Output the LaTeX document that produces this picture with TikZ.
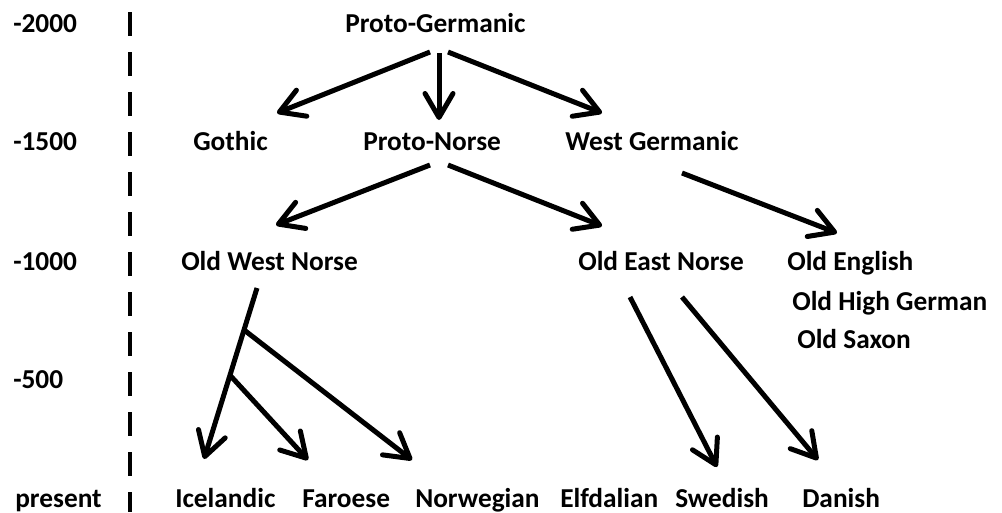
\documentclass[tikz,border=0pt]{standalone}
\usepackage{fontspec}
\setmainfont{Carlito}
\usetikzlibrary{arrows.meta}

\begin{document}
\begin{tikzpicture}[x=0.75pt, y=-0.75pt,
  lang/.style={anchor=base west, inner sep=0pt, font=\fontsize{20.5}{24}\selectfont\bfseries},
  arr/.style={line width=3.75pt, -{Straight Barb[length=18pt,width=21pt,round]}}]
\useasboundingbox (0,0) rectangle (1002,512);
\draw[line width=3pt, dash pattern=on 18pt off 12pt] (130,12) -- (130,512);
\node[lang] (y2000) at (13,32) {-2000};
\node[lang] (y1500) at (13,150) {-1500};
\node[lang] (y1000) at (13,270) {-1000};
\node[lang] (y500) at (13,388) {-500};
\node[lang] (ynow) at (15,507) {present};
\node[lang] (pg) at (345,32) {Proto-Germanic};
\node[lang] (goth) at (193,150) {Gothic};
\node[lang] (pn) at (363,150) {Proto-Norse};
\node[lang] (wg) at (565,150) {West Germanic};
\node[lang] (own) at (181,270) {Old West Norse};
\node[lang] (oen) at (578,270) {Old East Norse};
\node[lang] (oe) at (787,270) {Old English};
\node[lang] (ohg) at (792,310) {Old High German};
\node[lang] (os) at (797,348) {Old Saxon};
\node[lang] (ice) at (175,507) {Icelandic};
\node[lang] (far) at (302,507) {Faroese};
\node[lang] (nor) at (415,507) {Norwegian};
\node[lang] (elf) at (560,507) {Elfdalian};
\node[lang] (swe) at (675,507) {Swedish};
\node[lang] (dan) at (802,507) {Danish};
\draw[arr] ([shift={(85,20)}]pg.base west) -- ([shift={(84,-37)}]goth.base west);
\draw[arr] ([shift={(94,21)}]pg.base west) -- ([shift={(76,-30)}]pn.base west);
\draw[arr] ([shift={(103,20)}]pg.base west) -- ([shift={(37,-37)}]wg.base west);
\draw[arr] ([shift={(67,15)}]pn.base west) -- ([shift={(95,-45)}]own.base west);
\draw[arr] ([shift={(85,15)}]pn.base west) -- ([shift={(24,-44)}]oen.base west);
\draw[arr] ([shift={(117,23)}]wg.base west) -- ([shift={(50,-37)}]oe.base west);
\draw[arr] ([shift={(76,18)}]own.base west) -- coordinate[pos=0.245] (nfork) coordinate[pos=0.51] (ffork) ([shift={(29,-48)}]ice.base west);
\draw[arr] (ffork) -- ([shift={(6,-47)}]far.base west);
\draw[arr] (nfork) -- ([shift={(-3,-47)}]nor.base west);
\draw[arr] ([shift={(52,27)}]oen.base west) -- ([shift={(42,-40)}]swe.base west);
\draw[arr] ([shift={(104,27)}]oen.base west) -- ([shift={(16,-47)}]dan.base west);
\end{tikzpicture}
\end{document}
